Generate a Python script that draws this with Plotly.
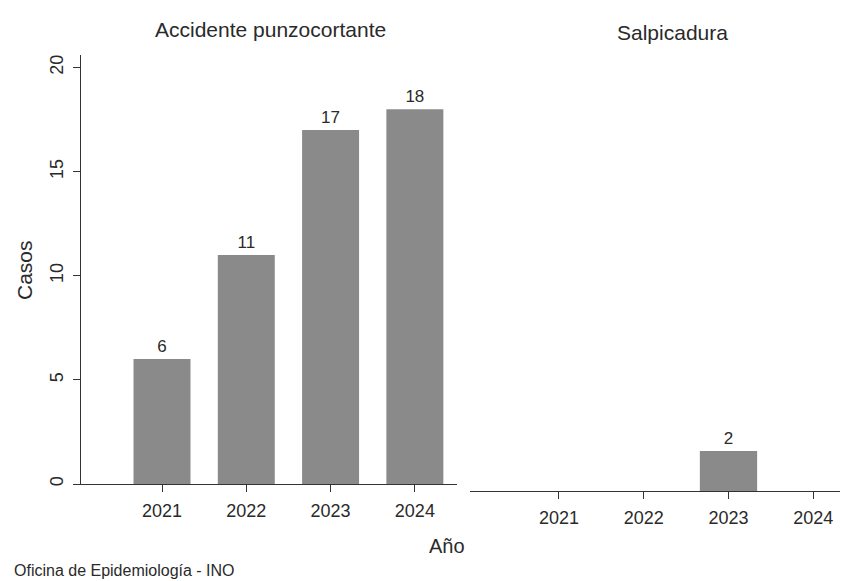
import plotly.graph_objects as go

years = ["2021", "2022", "2023", "2024"]
punzocortante = [6, 11, 17, 18]
salpicadura = [0, 0, 2, 0]
panel_titles = ["Accidente punzocortante", "Salpicadura"]
y_ticks = [0, 5, 10, 15, 20]

# page has an 8px default body margin: compensate
OFF = 8
W, H = 848 - OFF, 581 - OFF
FONT = "Liberation Sans, Arial, sans-serif"
TXT = "#2a2a2a"
BAR = "#8a8a8a"

def fx(px):
    return (px - OFF) / W

def fy(py):
    return 1 - (py - OFF) / H

fig = go.Figure()
fig.add_trace(go.Bar(
    x=years, y=punzocortante, xaxis="x", yaxis="y",
    marker=dict(color=BAR, line=dict(width=0)), width=0.676,
    text=[str(v) if v > 0 else "" for v in punzocortante],
    textposition="outside", cliponaxis=False,
    textfont=dict(family=FONT, size=17, color=TXT), showlegend=False,
))
fig.add_trace(go.Bar(
    x=years, y=salpicadura, xaxis="x2", yaxis="y2",
    marker=dict(color=BAR, line=dict(width=0)), width=0.676,
    text=[str(v) if v > 0 else "" for v in salpicadura],
    textposition="outside", cliponaxis=False,
    textfont=dict(family=FONT, size=17, color=TXT), showlegend=False,
))

axis_common = dict(
    type="category", showgrid=False, zeroline=False, showline=True,
    linecolor="#333", linewidth=1.2, ticks="outside", ticklen=7,
    tickcolor="#333", tickfont=dict(family=FONT, size=18, color=TXT),
    ticklabelstandoff=3,
)

fig.update_layout(
    width=W, height=H, margin=dict(l=0, r=0, t=0, b=0, autoexpand=False),
    paper_bgcolor="white", plot_bgcolor="white",
    font=dict(family=FONT, color=TXT),
    xaxis=dict(axis_common, domain=[fx(80), fx(457)], range=[-0.973, 3.50],
               anchor="y"),
    xaxis2=dict(axis_common, domain=[fx(470), 1.0], range=[-1.05, 3.41],
                anchor="y2"),
    yaxis=dict(domain=[fy(484), fy(55)], range=[0, 20.6], anchor="free",
               position=fx(80), showgrid=False, zeroline=False, showline=True,
               linecolor="#333", linewidth=1.2, ticks="outside", ticklen=7,
               tickcolor="#333", tickvals=y_ticks, tickangle=-90,
               ticklabelstandoff=3,
               tickfont=dict(family=FONT, size=18, color=TXT)),
    yaxis2=dict(domain=[fy(491), fy(491 - 20 * 20.6)], range=[0, 20.6],
                anchor="x2", visible=False),
)

annotations = [
    dict(text=panel_titles[0], x=fx(270), y=fy(30), xref="paper", yref="paper",
         xanchor="center", yanchor="middle", showarrow=False,
         font=dict(family=FONT, size=21, color=TXT)),
    dict(text=panel_titles[1], x=fx(672), y=fy(32), xref="paper", yref="paper",
         xanchor="center", yanchor="middle", showarrow=False,
         font=dict(family=FONT, size=21, color=TXT)),
    dict(text="Casos", x=fx(24), y=fy(270), xref="paper", yref="paper",
         xanchor="center", yanchor="middle", showarrow=False, textangle=-90,
         font=dict(family=FONT, size=21, color=TXT)),
    dict(text="Año", x=fx(447), y=fy(546), xref="paper", yref="paper",
         xanchor="center", yanchor="middle", showarrow=False,
         font=dict(family=FONT, size=20, color=TXT)),
    dict(text="Oficina de Epidemiología - INO", x=fx(12), y=fy(570),
         xref="paper", yref="paper", xanchor="left", yanchor="middle",
         showarrow=False, font=dict(family=FONT, size=16, color=TXT)),
]
fig.update_layout(annotations=annotations)

fig.write_html("out.html")
